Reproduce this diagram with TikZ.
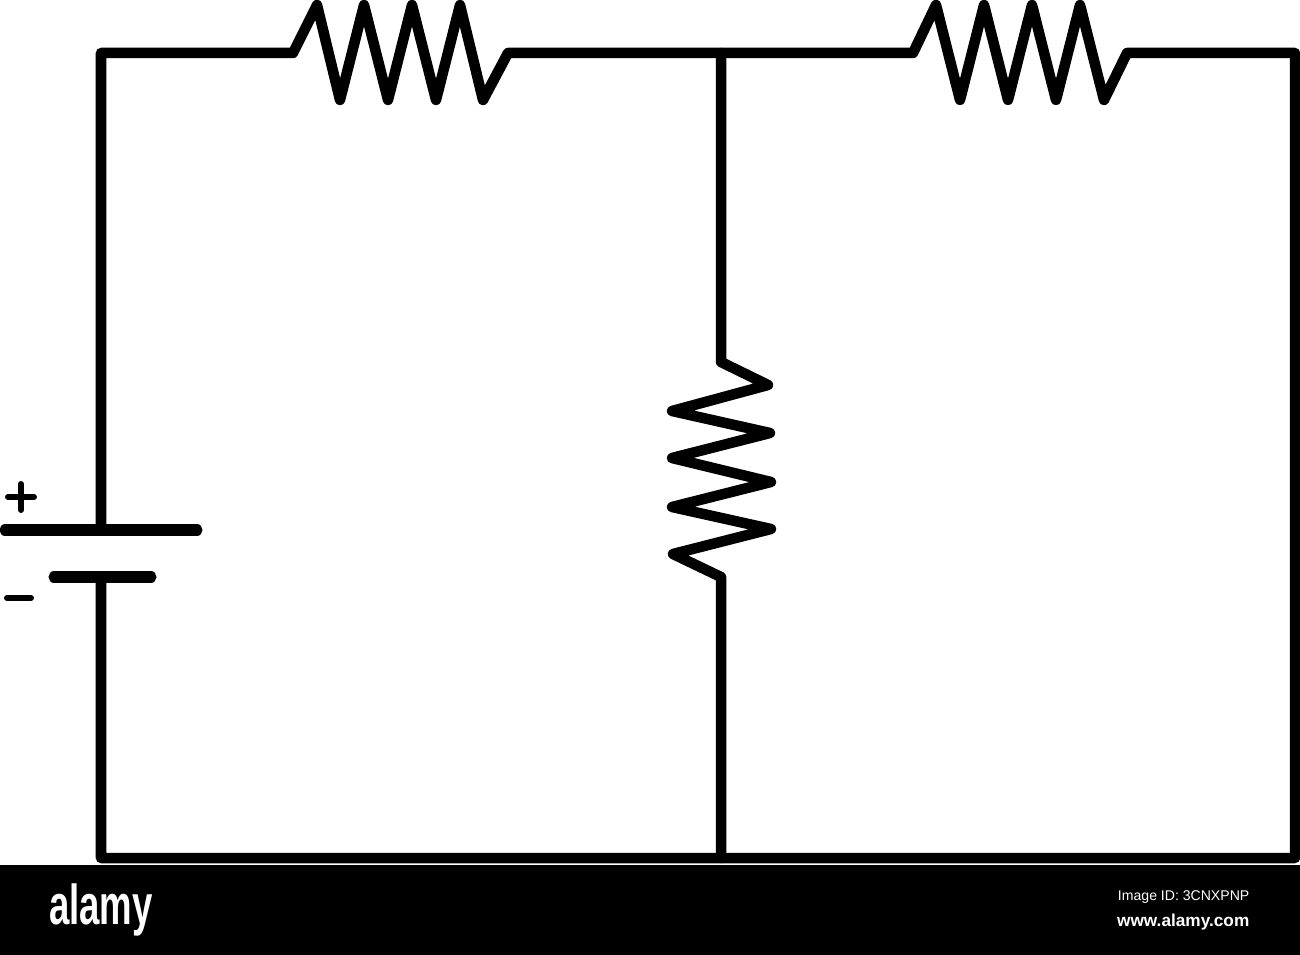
\documentclass[tikz,border=0pt]{standalone}
\usepackage{fontspec}
\setmainfont{Liberation Sans}
\tikzstyle{wire}=[draw, line width=0.105cm, line join=round, line cap=round]
\tikzstyle{plate}=[draw, line width=0.11cm, line cap=round]
\tikzstyle{polarity}=[draw, line width=0.06cm, line cap=round]
\tikzstyle{banner text}=[text=white, inner sep=0pt]

\begin{document}
\begin{tikzpicture}[x=0.01cm, y=-0.01cm]
      \useasboundingbox (0, 0) rectangle (1300, 955);
      \fill[black] (0, 865) rectangle (1300, 955);

      \coordinate (top_left) at (101, 53);
      \coordinate (top_right) at (1295, 53);
      \coordinate (bottom_left) at (101, 858);
      \coordinate (bottom_right) at (1295, 858);
      \coordinate (top_mid) at (721, 53);
      \coordinate (bottom_mid) at (721, 858);
      \coordinate (plus_in) at (101, 530);
      \coordinate (minus_in) at (101, 577);

      % battery
      \coordinate (plus_l) at (5, 530);
      \coordinate (plus_r) at (197, 530);
      \coordinate (minus_l) at (54, 577);
      \coordinate (minus_r) at (151, 577);
      \draw[plate] (plus_l) -- (plus_r);
      \draw[plate] (minus_l) -- (minus_r);

      % plus and minus signs
      \coordinate (plus_w) at (8, 497);
      \coordinate (plus_e) at (34, 497);
      \coordinate (plus_n) at (21, 484);
      \coordinate (plus_s) at (21, 510);
      \coordinate (minus_w) at (7, 598);
      \coordinate (minus_e) at (31, 598);
      \draw[polarity] (plus_w) -- (plus_e);
      \draw[polarity] (plus_n) -- (plus_s);
      \draw[polarity] (minus_w) -- (minus_e);

      % outer loop with the two top resistors
      \draw[wire] (plus_in) -- (top_left) -- (293, 53)
        -- (317, 5) -- (340, 100) -- (364, 5) -- (388, 100)
        -- (412, 5) -- (436, 100) -- (460, 5) -- (483, 100)
        -- (508, 53) -- (top_mid) -- (913, 53)
        -- (936, 5) -- (960, 100) -- (984, 5) -- (1008, 100)
        -- (1032, 5) -- (1056, 100) -- (1080, 5) -- (1104, 100)
        -- (1127, 53) -- (top_right) -- (bottom_right)
        -- (bottom_left) -- (minus_in);

      % middle branch
      \draw[wire] (top_mid) -- (721, 362)
        -- (768, 385) -- (672, 411) -- (770, 433) -- (672, 458)
        -- (771, 482) -- (672, 507) -- (771, 529) -- (673, 554)
        -- (721, 577) -- (bottom_mid);

      \node[banner text, font=\bfseries\fontsize{16}{16}\selectfont, xscale=0.65] (alamy_logo) at (101, 910) {alamy};
      \node[banner text, font=\fontsize{4}{4}\selectfont, anchor=east] (image_id) at (1250, 897) {Image ID: 3CNXPNP};
      \node[banner text, font=\bfseries\fontsize{4.9}{4.9}\selectfont, anchor=east] (alamy_url) at (1250, 922) {www.alamy.com};
    \end{tikzpicture}
\end{document}
